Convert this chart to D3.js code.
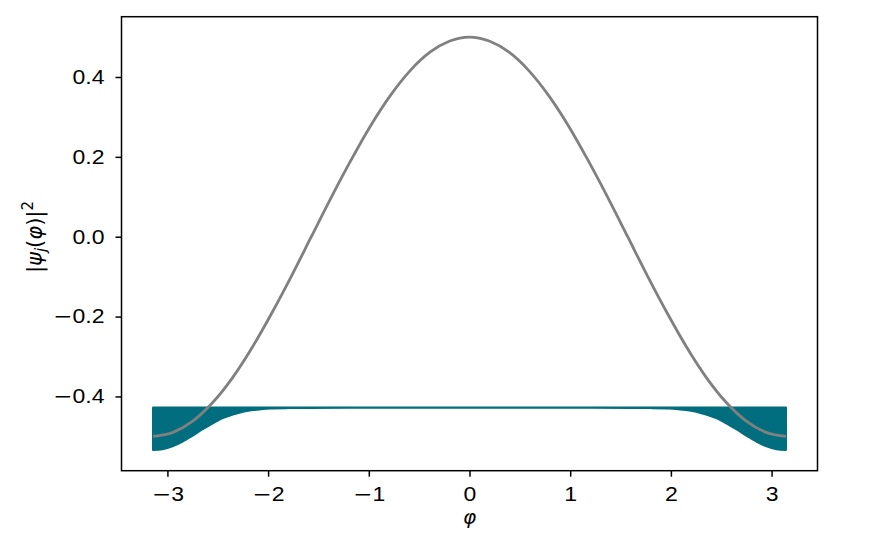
<!DOCTYPE html>
<html>
<head>
<meta charset="utf-8">
<script src="https://cdn.jsdelivr.net/npm/d3@7"></script>
<style>
  body { margin: 0; background: #fff; }
  .tick text { font-family: "Liberation Sans", Arial, sans-serif; font-size: 20px; fill: #000; }
</style>
</head>
<body>
<div id="chart"></div>
<script>
var phi = [-3.142, -2.945, -2.749, -2.553, -2.356, -2.160, -1.963, -1.767, -1.571,
           -1.374, -1.178, -0.982, -0.785, -0.589, -0.393, -0.196, 0,
           0.196, 0.393, 0.589, 0.785, 0.982, 1.178, 1.374, 1.571,
           1.767, 1.963, 2.160, 2.356, 2.553, 2.749, 2.945, 3.142];
var potential = [-0.500, -0.490, -0.462, -0.416, -0.354, -0.278, -0.191, -0.098, 0.000,
                 0.098, 0.191, 0.278, 0.354, 0.416, 0.462, 0.490, 0.500,
                 0.490, 0.462, 0.416, 0.354, 0.278, 0.191, 0.098, 0.000,
                 -0.098, -0.191, -0.278, -0.354, -0.416, -0.462, -0.490, -0.500];

// teal band: lower edge, filled up to the level line
var densityPhi = [-3.142, -3.05, -2.95, -2.85, -2.75, -2.65, -2.55, -2.45, -2.35, -2.25,
                  -2.15, -2.05, -1.95, -1.80, -1.60, -1.20, -0.60, 0,
                  0.60, 1.20, 1.60, 1.80, 1.95, 2.05, 2.15, 2.25, 2.35,
                  2.45, 2.55, 2.65, 2.75, 2.85, 2.95, 3.05, 3.142];
var density = [-0.534, -0.532, -0.525, -0.513, -0.498, -0.482, -0.467, -0.454, -0.445, -0.438,
               -0.434, -0.431, -0.430, -0.429, -0.4285, -0.428, -0.428, -0.428,
               -0.428, -0.428, -0.4285, -0.429, -0.430, -0.431, -0.434, -0.438, -0.445,
               -0.454, -0.467, -0.482, -0.498, -0.513, -0.525, -0.532, -0.534];
var level = -0.428;

var xTicks = [-3, -2, -1, 0, 1, 2, 3];
var yTicks = [-0.4, -0.2, 0.0, 0.2, 0.4];

var width = 884, height = 552;
var plotLeft = 121.5, plotRight = 817.5, plotTop = 16.7, plotBottom = 470.7;
var teal = "#006e7f";

var svg = d3.select("#chart").append("svg")
    .attr("width", width)
    .attr("height", height);

var x = d3.scaleLinear().domain([-3.456, 3.456]).range([plotLeft, plotRight]);
var y = d3.scaleLinear().domain([-0.586, 0.551]).range([plotBottom, plotTop]);

var band = densityPhi.map(function(p, i) { return {phi: p, d: density[i]}; });
var curve = phi.map(function(p, i) { return {phi: p, v: potential[i]}; });

svg.append("path")
    .datum(band)
    .attr("fill", teal)
    .attr("stroke", teal)
    .attr("stroke-width", 2.2)
    .attr("stroke-linejoin", "round")
    .attr("d", d3.area()
        .curve(d3.curveMonotoneX)
        .x(function(d) { return x(d.phi); })
        .y0(y(level))
        .y1(function(d) { return y(d.d); }));

svg.append("path")
    .datum(curve)
    .attr("fill", "none")
    .attr("stroke", "#808080")
    .attr("stroke-width", 2.8)
    .attr("d", d3.line()
        .curve(d3.curveMonotoneX)
        .x(function(d) { return x(d.phi); })
        .y(function(d) { return y(d.v); }));

// axes
var tickLen = 6;
svg.append("g")
    .attr("transform", "translate(0," + plotBottom + ")")
    .call(d3.axisBottom(x).tickValues(xTicks).tickFormat(d3.format("d"))
        .tickSizeOuter(0).tickSize(tickLen).tickPadding(10));

svg.append("g")
    .attr("transform", "translate(" + plotLeft + ",0)")
    .call(d3.axisLeft(y).tickValues(yTicks).tickFormat(d3.format(".1f"))
        .tickSizeOuter(0).tickSize(tickLen).tickPadding(11));

svg.selectAll(".domain").remove();
svg.selectAll(".tick line").attr("stroke", "#000").attr("stroke-width", 1.5);

// wide minus sign and slightly wide digits, like the reference
svg.selectAll(".tick text").each(function() {
    var t = d3.select(this);
    var s = t.text();
    var ax = +t.attr("x") || 0;
    t.attr("transform", "translate(" + ax + ",0) scale(1.15,1) translate(" + (-ax) + ",0)");
    if (s.charAt(0) === "\u2212") {
        t.text(null);
        t.append("tspan").attr("font-family", "DejaVu Sans").text("\u2212");
        t.append("tspan").text(s.slice(1));
    }
});

// frame
svg.append("rect")
    .attr("x", plotLeft)
    .attr("y", plotTop)
    .attr("width", plotRight - plotLeft)
    .attr("height", plotBottom - plotTop)
    .attr("fill", "none")
    .attr("stroke", "#000")
    .attr("stroke-width", 1.5);

// axis labels
svg.append("text")
    .attr("x", x(0))
    .attr("y", 524)
    .attr("text-anchor", "middle")
    .attr("font-family", "DejaVu Sans, sans-serif")
    .attr("font-style", "italic")
    .attr("font-size", "20px")
    .text("φ");

var yl = svg.append("text")
    .attr("transform", "translate(42,237) rotate(-90)")
    .attr("text-anchor", "middle")
    .attr("font-family", "DejaVu Sans, sans-serif")
    .attr("font-size", "21px");
yl.append("tspan").text("|");
yl.append("tspan").attr("font-style", "italic").text("ψ");
yl.append("tspan").attr("font-style", "italic").attr("font-size", "15px").attr("dy", 4).text("j");
yl.append("tspan").attr("dy", -4).text("(");
yl.append("tspan").attr("font-style", "italic").text("φ");
yl.append("tspan").text(")|");
yl.append("tspan").attr("font-size", "15px").attr("dy", -9).text("2");
</script>
</body>
</html>
